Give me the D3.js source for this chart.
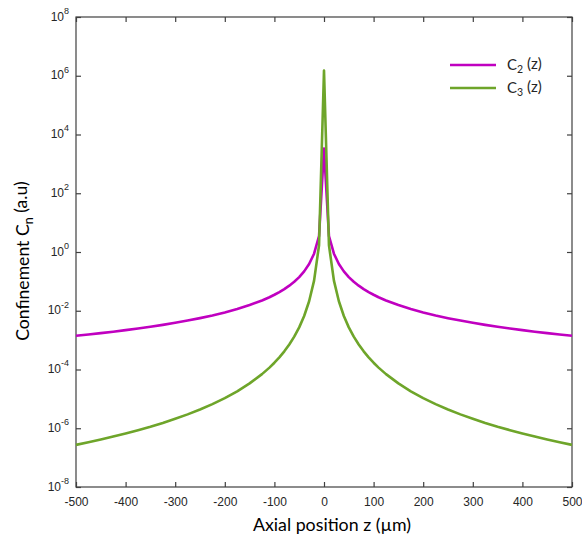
<!DOCTYPE html>
<html>
<head>
<meta charset="utf-8">
<script src="https://cdn.jsdelivr.net/npm/d3@7"></script>
<style>
  body { margin: 0; background: #fff; }
  svg { display: block; }
</style>
</head>
<body>
<svg id="chart" width="582" height="537"></svg>
<script>
// Axial positions (µm), z >= 0 half (mirrored for z < 0)
const zHalf = [0,10,20,30,40,50,60,70,80,90,100,110,125,150,175,200,225,250,275,300,325,350,375,400,425,450,475,500];
// C2(z) and C3(z) (symmetric about z = 0)
const c2Half = [3300, 3.5, 0.875, 0.389, 0.219, 0.14, 0.0972, 0.0714, 0.0547, 0.0432, 0.035, 0.0289,
                0.0224, 0.0156, 0.0114, 0.00875, 0.00691, 0.0056, 0.00463, 0.00389, 0.00331, 0.00286,
                0.00249, 0.00219, 0.00194, 0.00173, 0.00155, 0.0014];
const c3Half = [1.5e6, 1.7, 0.106, 0.021, 0.00664, 0.00272, 0.00131, 0.000708, 0.000415, 0.000259, 0.00017, 0.000116,
                6.96e-5, 3.36e-5, 1.81e-5, 1.06e-5, 6.63e-6, 4.35e-6, 2.97e-6, 2.1e-6, 1.52e-6, 1.13e-6,
                8.6e-7, 6.64e-7, 5.21e-7, 4.15e-7, 3.34e-7, 2.72e-7];
const zPos = zHalf.slice(1).reverse().map(z => -z).concat(zHalf);
const C2 = c2Half.slice(1).reverse().concat(c2Half);
const C3 = c3Half.slice(1).reverse().concat(c3Half);

const xTicks = [-500,-400,-300,-200,-100,0,100,200,300,400,500];
const yExponents = [8,6,4,2,0,-2,-4,-6,-8];
const seriesNames = ["2", "3"];

const svg = d3.select("#chart");
const mLeft = 76, mRight = 572, mTop = 17, mBottom = 487;

const x = d3.scaleLinear().domain([-500, 500]).range([mLeft, mRight]);
const y = d3.scaleLog().domain([1e-8, 1e8]).range([mBottom, mTop]);

const axisColor = "#404040";
const tickFont = "'Liberation Sans', Arial, sans-serif";
const labelFont = "Lato, 'Open Sans', sans-serif";

svg.append("rect").attr("x", mLeft).attr("y", mTop)
  .attr("width", mRight - mLeft).attr("height", mBottom - mTop)
  .attr("fill", "none").attr("stroke", axisColor).attr("stroke-width", 1.2);

const tickVals = yExponents.map(e => Math.pow(10, e));

const xb = svg.append("g").attr("transform", `translate(0,${mBottom})`)
  .call(d3.axisBottom(x).tickValues(xTicks).tickSizeInner(-5).tickSizeOuter(0).tickPadding(10)
    .tickFormat(d => String(d)));
const xt = svg.append("g").attr("transform", `translate(0,${mTop})`)
  .call(d3.axisTop(x).tickValues(xTicks).tickSizeInner(-5).tickSizeOuter(0).tickFormat(""));
const yl = svg.append("g").attr("transform", `translate(${mLeft},0)`)
  .call(d3.axisLeft(y).tickValues(tickVals).tickSizeInner(-5).tickSizeOuter(0).tickFormat(""));
const yr = svg.append("g").attr("transform", `translate(${mRight},0)`)
  .call(d3.axisRight(y).tickValues(tickVals).tickSizeInner(-5).tickSizeOuter(0).tickFormat(""));

[xb, xt, yl, yr].forEach(g => {
  g.select(".domain").remove();
  g.attr("font-family", tickFont);
  g.selectAll(".tick line").attr("stroke", axisColor).attr("stroke-width", 1.2);
});
xb.selectAll(".tick text").attr("font-family", tickFont).attr("font-size", 12).attr("fill", "#262626");

yl.selectAll(".tick").each(function(d) {
  const e = Math.round(Math.log10(d));
  const t = d3.select(this).append("text")
    .attr("x", -7).attr("y", 0).attr("dy", "0.32em")
    .attr("text-anchor", "end")
    .attr("font-family", tickFont).attr("fill", "#262626");
  t.append("tspan").attr("font-size", 12).text("10");
  t.append("tspan").attr("font-size", 9).attr("dy", "-0.75em").text(String(e));
});

const line = d3.line().x(d => x(d[0])).y(d => y(d[1]));
const colors = ["#c000c0", "#6ea52a"];
[C2, C3].forEach((vals, i) => {
  svg.append("path")
    .datum(zPos.map((z, k) => [z, vals[k]]))
    .attr("fill", "none").attr("stroke", colors[i]).attr("stroke-width", 2.6)
    .attr("stroke-linejoin", "round")
    .attr("d", line);
});

const legY = [65, 88];
seriesNames.forEach((n, i) => {
  svg.append("line").attr("x1", 450).attr("x2", 496).attr("y1", legY[i]).attr("y2", legY[i])
    .attr("stroke", colors[i]).attr("stroke-width", 2.6);
  const t = svg.append("text").attr("x", 507).attr("y", legY[i]).attr("dy", "0.35em")
    .attr("font-family", labelFont).attr("font-size", 15).attr("fill", "#262626");
  t.append("tspan").text("C");
  t.append("tspan").attr("font-size", 10.5).attr("dy", "0.3em").text(n);
  t.append("tspan").attr("dy", "-0.3em").text(" (z)");
});

svg.append("text").attr("x", 332).attr("y", 531)
  .attr("text-anchor", "middle").attr("font-family", labelFont).attr("font-size", 17.8).attr("fill", "#000")
  .text("Axial position z (\u00b5m)");

const yt = svg.append("text").attr("transform", `translate(29,261) rotate(-90)`)
  .attr("text-anchor", "middle").attr("font-family", labelFont).attr("font-size", 17.6).attr("fill", "#000");
yt.append("tspan").text("Confinement C");
yt.append("tspan").attr("font-size", 12.5).attr("dy", "0.3em").text("n");
yt.append("tspan").attr("dy", "-0.3em").text(" (a.u)");
</script>
</body>
</html>
